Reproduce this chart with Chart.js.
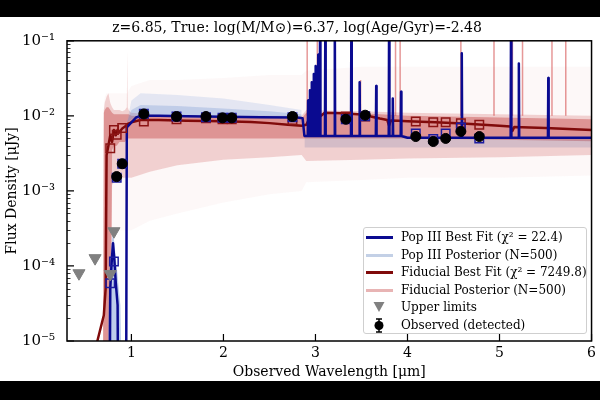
<!DOCTYPE html>
<html>
<head>
<meta charset="utf-8">
<script src="https://cdn.jsdelivr.net/npm/chart.js@4.4.1/dist/chart.umd.min.js"></script>
<style>
  body { margin: 0; background: #000; }
  #wrap { position: absolute; left: 0; top: 17px; width: 600px; height: 364px; background: #fff; }
  #legend { position: absolute; left: 363px; top: 210px; width: 224px; height: 107px;
    border: 1px solid #cfcfcf; border-radius: 3px; background: rgba(255,255,255,0.85);
    font-family: 'DejaVu Serif', serif; font-size: 12px; color: #000; box-sizing: border-box; }
  .row { position: absolute; left: 0; height: 17px; line-height: 17px; white-space: nowrap; }
  .row span { position: absolute; left: 37px; top: 0; }
  .row svg { position: absolute; left: 1px; top: 0; }
</style>
</head>
<body>
<div id="wrap">
  <canvas id="sed" width="600" height="364"></canvas>
  <div id="legend"></div>
</div>
<script>
// observed photometry (detected)
const obsWave = [0.84, 0.90, 1.135, 1.49, 1.81, 1.99, 2.09, 2.75, 3.33, 3.54, 4.09, 4.28, 4.415, 4.58, 4.78];
const obsFlux = [1.55e-3, 2.3e-3, 1.06e-2, 9.8e-3, 9.8e-3, 9.4e-3, 9.4e-3, 9.8e-3, 9.0e-3, 1.02e-2, 5.3e-3, 4.55e-3, 5.0e-3, 6.2e-3, 5.3e-3];

// upper limits
const limWave = [0.43, 0.605, 0.77, 0.81];
const limFlux = [8.0e-5, 1.27e-4, 7.8e-5, 2.9e-4];

// model photometry in each band
const bandWave = [0.77, 0.81, 0.84, 0.90, 1.135, 1.49, 1.81, 1.99, 2.09, 2.75, 3.33, 3.54, 4.09, 4.28, 4.415, 4.58, 4.78];
const popBand = [5.9e-5, 1.15e-4, 1.5e-3, 2.3e-3, 1.07e-2, 9.8e-3, 9.6e-3, 9.4e-3, 9.4e-3, 9.6e-3, 9.0e-3, 9.9e-3, 5.8e-3, 4.9e-3, 5.8e-3, 7.0e-3, 5.0e-3];
const fidBand = [3.7e-3, 6.5e-3, 5.6e-3, 6.9e-3, 8.4e-3, 9.0e-3, 9.3e-3, 9.0e-3, 9.0e-3, 8.8e-3, 9.8e-3, 9.8e-3, 8.4e-3, 8.2e-3, 8.2e-3, 8.0e-3, 7.6e-3];

// Pop III best-fit spectrum
const popWave = [0.30, 0.76, 0.77, 0.785, 0.80, 0.815, 0.83, 0.85, 0.86, 0.94, 0.95, 1.0, 1.05, 1.1, 1.3, 1.6, 2.0, 2.4, 2.8, 2.86, 2.88,
  2.916, 2.92, 2.924, 2.936, 2.94, 2.944, 2.956, 2.96, 2.964, 2.976, 2.98, 2.984, 2.996, 3.00, 3.004,
  3.026, 3.03, 3.034, 3.046, 3.05, 3.054, 3.103, 3.107, 3.111, 3.206, 3.21, 3.214, 3.386, 3.39, 3.394,
  3.476, 3.48, 3.484, 3.656, 3.66, 3.664, 3.796, 3.80, 3.804, 3.836, 3.84, 3.844, 3.926, 3.93, 3.934,
  4.0, 4.586, 4.59, 4.594, 5.121, 5.125, 5.129, 5.206, 5.21, 5.214, 5.526, 5.53, 5.534, 6.0];
const popLine = [1e-7, 1e-7, 5e-5, 1.1e-4, 2.0e-4, 1.2e-4, 6e-5, 3e-5, 1e-7, 1e-7, 7.0e-3, 8.2e-3, 9.5e-3, 1.0e-2, 1.0e-2, 9.9e-3, 9.7e-3, 9.6e-3, 9.5e-3, 9.3e-3, 5.4e-3,
  5.4e-3, 1.6e-2, 5.4e-3, 5.4e-3, 2.2e-2, 5.4e-3, 5.4e-3, 2.8e-2, 5.4e-3, 5.4e-3, 3.6e-2, 5.4e-3, 5.4e-3, 4.6e-2, 5.4e-3,
  5.4e-3, 6.5e-2, 5.4e-3, 5.4e-3, 0.2, 5.4e-3, 5.4e-3, 0.2, 5.4e-3, 5.4e-3, 0.2, 5.4e-3, 5.4e-3, 0.2, 5.4e-3,
  5.4e-3, 2.8e-2, 5.4e-3, 5.4e-3, 2.5e-2, 5.4e-3, 5.4e-3, 0.2, 5.4e-3, 5.4e-3, 1.7e-2, 5.4e-3, 5.4e-3, 2.1e-2, 5.4e-3,
  5.1e-3, 5.1e-3, 6.8e-2, 5.1e-3, 5.1e-3, 0.2, 5.1e-3, 5.1e-3, 5.0e-2, 5.1e-3, 5.1e-3, 3.2e-2, 5.1e-3, 5.1e-3];

// fiducial best-fit spectrum
const fidWave = [0.30, 0.60, 0.63, 0.70, 0.72, 0.73, 0.75, 0.77, 0.79, 0.81, 0.83, 0.85, 0.87, 0.90, 0.93, 0.96, 1.0, 1.1, 1.3, 1.6, 2.0, 2.3, 2.5, 2.7, 2.85,
  2.9, 2.93, 2.95, 2.98, 3.0, 3.03, 3.06, 3.1, 3.3, 3.5, 3.6, 3.7, 3.78, 3.80, 3.82, 3.9, 4.0, 4.3, 4.6, 5.0, 5.12, 5.14, 5.16, 5.5, 6.0];
const fidLine = [1e-7, 1e-6, 1e-5, 2.2e-5, 5e-5, 3e-3, 4e-3, 5.5e-3, 4.5e-3, 6.5e-3, 5.5e-3, 6.5e-3, 6e-3, 6.8e-3, 7.2e-3, 7.8e-3, 8.2e-3, 8.8e-3, 8.8e-3, 8.6e-3, 8.5e-3, 8.3e-3, 8.0e-3, 7.6e-3, 7.4e-3,
  7.6e-3, 9.0e-3, 8.5e-3, 1.0e-2, 9.5e-3, 1.1e-2, 1.0e-2, 1.1e-2, 1.08e-2, 1.04e-2, 9.8e-3, 9.2e-3, 8.8e-3, 7.4e-3, 8.7e-3, 8.6e-3, 8.5e-3, 8.2e-3, 7.9e-3, 7.4e-3, 7.2e-3, 6.3e-3, 7.1e-3, 6.9e-3, 6.5e-3];

// fiducial posterior envelopes
const postWave = [0.69, 0.70, 0.71, 0.73, 0.75, 0.77, 0.79, 0.81, 0.84, 0.87, 0.90, 0.93, 0.95, 0.955, 0.96, 0.97, 1.0, 1.2, 1.5, 2.0, 2.5, 2.85, 2.9, 3.5, 4.0, 5.0, 6.0];
const fidFaintHi = [1e-6, 1.5e-2, 1.8e-2, 2e-2, 2e-2, 2e-2, 2e-2, 2e-2, 2e-2, 2e-2, 2e-2, 2e-2, 2e-2, 2e-2, 2e-2, 2.2e-2, 2.5e-2, 3e-2, 3e-2, 3.2e-2, 3.5e-2, 3.5e-2, 4e-2, 4.5e-2, 4.5e-2, 4.5e-2, 4.5e-2];
const fidFaintLo = [1e-6, 1e-6, 1e-6, 1e-6, 1e-6, 1e-6, 3e-4, 3e-4, 3e-4, 3e-4, 3e-4, 3e-4, 3e-4, 3e-4, 3e-4, 3e-4, 3e-4, 4e-4, 5e-4, 7e-4, 9e-4, 1e-3, 1.3e-3, 1.4e-3, 1.5e-3, 1.5e-3, 1.6e-3];
const fidWideHi = [1e-6, 1.2e-2, 1.5e-2, 1.8e-2, 2.0e-2, 1.5e-2, 1.3e-2, 1.2e-2, 1.2e-2, 1.2e-2, 1.15e-2, 1.2e-2, 1.3e-2, 7.5e-2, 1.3e-2, 1.2e-2, 1.1e-2, 1.05e-2, 1.0e-2, 1.0e-2, 1.0e-2, 1.0e-2, 1.2e-2, 1.15e-2, 1.1e-2, 1.05e-2, 1.0e-2];
const fidWideLo = [1e-6, 1e-6, 1e-6, 1e-6, 1e-6, 1e-6, 1.2e-3, 1.3e-3, 1.4e-3, 1.5e-3, 1.5e-3, 1.5e-3, 1.5e-3, 1.5e-3, 1.5e-3, 1.5e-3, 1.5e-3, 1.8e-3, 2.2e-3, 2.6e-3, 2.8e-3, 3.0e-3, 2.5e-3, 2.6e-3, 2.7e-3, 2.8e-3, 3.0e-3];
const fidCoreHi = [1e-6, 1.1e-2, 1.2e-2, 1.3e-2, 1.3e-2, 1.2e-2, 1.1e-2, 1.05e-2, 1.05e-2, 1.05e-2, 1.05e-2, 1.05e-2, 1.05e-2, 1.05e-2, 1.05e-2, 1.05e-2, 1.0e-2, 9.8e-3, 9.6e-3, 9.5e-3, 9.4e-3, 9.2e-3, 1.1e-2, 1.08e-2, 1.0e-2, 9.5e-3, 9.0e-3];
const fidCoreLo = [1e-6, 1e-6, 1e-6, 1e-6, 1e-6, 1e-6, 3.5e-3, 4e-3, 4e-3, 4.5e-3, 4.5e-3, 4.5e-3, 5e-3, 5e-3, 5e-3, 5e-3, 5e-3, 5e-3, 5e-3, 5e-3, 5e-3, 5e-3, 5e-3, 5e-3, 5e-3, 4.8e-3, 4.6e-3];

// fiducial posterior emission lines (null breaks the line)
const fidSpikeWave = [2.91, 2.91, 2.91, 3.02, 3.02, 3.02, 3.49, 3.49, 3.49, 3.87, 3.87, 3.87, 3.92, 3.92, 3.92, 4.58, 4.58, 4.58,
  4.94, 4.94, 4.94, 5.14, 5.14, 5.14, 5.25, 5.25, 5.25, 5.57, 5.57, 5.57, 5.72, 5.72];
const fidSpikeFlux = [1e-2, 0.2, null, 1e-2, 0.2, null, 1e-2, 3e-2, null, 1e-2, 0.2, null, 1e-2, 0.2, null, 1e-2, 0.2, null,
  1e-2, 0.2, null, 1e-2, 0.2, null, 1e-2, 0.2, null, 1e-2, 0.2, null, 1e-2, 0.2];

// Pop III posterior envelopes
const popPostWave = [0.95, 1.0, 1.1, 1.5, 2.0, 2.5, 2.85];
const popPostHi = [8e-3, 1.6e-2, 2.0e-2, 1.9e-2, 1.7e-2, 1.4e-2, 1.2e-2];
const popPostMid = [8e-3, 1.2e-2, 1.4e-2, 1.35e-2, 1.25e-2, 1.15e-2, 1.05e-2];
const popPostLo = [8e-3, 9e-3, 1.0e-2, 9.9e-3, 9.7e-3, 9.6e-3, 9.5e-3];
const popRedWave = [2.88, 6.0];
const popRedHi = [5.3e-3, 5.0e-3];
const popRedLo = [3.8e-3, 3.8e-3];
const popFanWave = [0.73, 0.76, 0.80, 0.84, 0.88, 0.90];
const popFanHi = [1e-6, 1e-4, 3e-4, 1e-4, 3e-5, 1e-6];
const popFanLo = [1e-6, 1e-6, 1e-6, 1e-6, 1e-6, 1e-6];

// axes
const xTicks = [1, 2, 3, 4, 5, 6];
const yTicks = [1e-5, 1e-4, 1e-3, 1e-2, 1e-1];
const yTickLabels = ['10⁻⁵', '10⁻⁴', '10⁻³', '10⁻²', '10⁻¹'];

const pts = (xs, ys) => xs.map((x, i) => ({x: x, y: ys[i]}));

function band(xs, hi, lo, color) {
  return [
    {data: pts(xs, hi), showLine: true, pointRadius: 0, borderWidth: 0, borderColor: 'rgba(0,0,0,0)', backgroundColor: color, fill: '+1'},
    {data: pts(xs, lo), showLine: true, pointRadius: 0, borderWidth: 0, borderColor: 'rgba(0,0,0,0)', fill: false}
  ];
}

const inwardTicks = {
  id: 'inwardTicks',
  afterDraw(chart) {
    const {ctx, chartArea: a, scales: {x, y}} = chart;
    ctx.save();
    ctx.strokeStyle = '#000';
    ctx.lineWidth = 0.8;
    ctx.beginPath();
    for (let d = -5; d < -1; d++) {
      for (let k = 2; k < 10; k++) {
        const py = Math.round(y.getPixelForValue(k * Math.pow(10, d))) + 0.5;
        ctx.moveTo(a.left, py); ctx.lineTo(a.left + 3.5, py);
      }
    }
    ctx.stroke();
    ctx.lineWidth = 1.2;
    ctx.beginPath();
    yTicks.forEach(v => {
      const py = y.getPixelForValue(v);
      ctx.moveTo(a.left, py); ctx.lineTo(a.left + 7, py);
    });
    xTicks.forEach(v => {
      const px = x.getPixelForValue(v);
      ctx.moveTo(px, a.bottom); ctx.lineTo(px, a.bottom - 7);
    });
    ctx.stroke();
    ctx.lineWidth = 1.5;
    ctx.strokeRect(a.left, a.top, a.right - a.left, a.bottom - a.top);
    ctx.restore();
  }
};

Chart.defaults.font.family = "'DejaVu Serif', serif";
Chart.defaults.color = '#000';

const ctx = document.getElementById('sed').getContext('2d');
const sedChart = new Chart(ctx, {
  type: 'scatter',
  data: {
    datasets: [
      {label: 'Observed (detected)', data: pts(obsWave, obsFlux), pointRadius: 5, pointBackgroundColor: '#000', pointBorderColor: '#000'},
      {label: 'Upper limits', data: pts(limWave, limFlux), pointStyle: 'triangle', rotation: 180, pointRadius: 7,
        pointBackgroundColor: '#808080', pointBorderColor: '#808080'},
      {data: pts(bandWave, popBand), pointStyle: 'rect', pointRadius: 6, pointBorderWidth: 1.5,
        pointBackgroundColor: 'rgba(0,0,0,0)', pointBorderColor: '#1c1ca0'},
      {data: pts(bandWave, fidBand), pointStyle: 'rect', pointRadius: 6, pointBorderWidth: 1.5,
        pointBackgroundColor: 'rgba(0,0,0,0)', pointBorderColor: '#8b1414'},
      {label: 'Pop III Best Fit', data: pts(popWave, popLine), showLine: true, pointRadius: 0, borderWidth: 2.5,
        borderColor: '#0a0a90', borderJoinStyle: 'round'},
      {label: 'Fiducial Best Fit', data: pts(fidWave, fidLine), showLine: true, pointRadius: 0, borderWidth: 2.5,
        borderColor: '#800a0a', borderJoinStyle: 'round'},
      {data: pts(fidSpikeWave, fidSpikeFlux), showLine: true, spanGaps: false, pointRadius: 0, borderWidth: 1.5,
        borderColor: 'rgba(205,50,50,0.5)'},
      ...band(popPostWave, popPostMid, popPostLo, 'rgba(90,130,205,0.25)'),
      ...band(popPostWave, popPostHi, popPostLo, 'rgba(110,150,215,0.18)'),
      ...band(popRedWave, popRedHi, popRedLo, 'rgba(110,120,170,0.22)'),
      ...band(popFanWave, popFanHi, popFanLo, 'rgba(90,130,205,0.4)'),
      ...band(postWave, fidCoreHi, fidCoreLo, 'rgba(190,50,50,0.38)'),
      ...band(postWave, fidWideHi, fidWideLo, 'rgba(200,70,70,0.22)'),
      ...band(postWave, fidFaintHi, fidFaintLo, 'rgba(220,110,110,0.05)')
    ]
  },
  options: {
    responsive: false,
    animation: false,
    layout: {padding: {right: 6}},
    plugins: {
      legend: {display: false},
      tooltip: {enabled: false},
      title: {
        display: true,
        text: 'z=6.85, True: log(M/M⊙)=6.37, log(Age/Gyr)=-2.48',
        font: {size: 14, weight: 'normal'},
        padding: {top: 3, bottom: 4}
      }
    },
    scales: {
      x: {
        type: 'linear', min: 0.3, max: 6,
        grid: {display: false, drawTicks: false}, border: {display: false},
        afterBuildTicks: s => { s.ticks = xTicks.map(v => ({value: v})); },
        afterFit: s => { s.height = 40; },
        ticks: {font: {size: 14}, padding: 4, maxRotation: 0, callback: v => String(v)},
        title: {display: true, text: 'Observed Wavelength [μm]', font: {size: 14}, padding: {top: 0, bottom: 0}}
      },
      y: {
        type: 'logarithmic', min: 1e-5, max: 1e-1,
        grid: {display: false, drawTicks: false}, border: {display: false},
        afterBuildTicks: s => { s.ticks = yTicks.map(v => ({value: v})); },
        afterFit: s => { s.width = 67; },
        ticks: {font: {size: 15}, padding: 12, callback: v => yTickLabels[yTicks.indexOf(v)]},
        title: {display: true, text: 'Flux Density [μJy]', font: {size: 14}}
      }
    }
  },
  plugins: [inwardTicks]
});

// legend drawn as html over the chart area
const legendRows = [
  ['line', '#0a0a90', 'Pop III Best Fit (χ² = 22.4)'],
  ['line', '#c3d0e6', 'Pop III Posterior (N=500)'],
  ['line', '#800a0a', 'Fiducial Best Fit (χ² = 7249.8)'],
  ['line', '#e8b4b4', 'Fiducial Posterior (N=500)'],
  ['tri', '#808080', 'Upper limits'],
  ['dot', '#000', 'Observed (detected)']
];
const legendEl = document.getElementById('legend');
legendRows.forEach((r, i) => {
  let icon;
  if (r[0] === 'line') icon = `<line x1="1" y1="8.5" x2="28" y2="8.5" stroke="${r[1]}" stroke-width="3"/>`;
  else if (r[0] === 'tri') icon = `<polygon points="8.5,3 19.5,3 14,13" fill="${r[1]}"/>`;
  else icon = `<line x1="14" y1="2" x2="14" y2="15" stroke="#000" stroke-width="1.5"/><line x1="11" y1="2" x2="17" y2="2" stroke="#000" stroke-width="1.5"/><line x1="11" y1="15" x2="17" y2="15" stroke="#000" stroke-width="1.5"/><circle cx="14" cy="8.5" r="4.5" fill="#000"/>`;
  const row = document.createElement('div');
  row.className = 'row';
  row.style.top = (1 + i * 17.5) + 'px';
  row.innerHTML = `<svg width="30" height="17">${icon}</svg><span>${r[2]}</span>`;
  legendEl.appendChild(row);
});
</script>
</body>
</html>
